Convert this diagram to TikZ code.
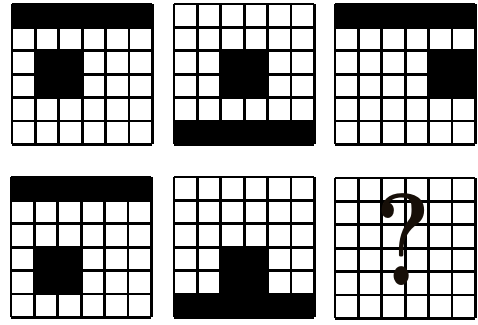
\documentclass[tikz,border=0pt]{standalone}
\tikzset{
  gridline/.style={line width=2.4pt, draw=black, line cap=square},
  blackcell/.style={fill=black},
  mark q/.style={inner sep=0pt, text=black!88!brown, font=\fontsize{112}{112}\selectfont\bfseries},
}
\begin{document}
\begin{tikzpicture}[x=0.03cm, y=-0.03cm]
  \useasboundingbox (0,0) rectangle (478,324);
  \def\c{23.4}
  \coordinate (p1) at (12,4);
  \coordinate (p2) at (174,4);
  \coordinate (p3) at (335,4);
  \coordinate (p4) at (11,177);
  \coordinate (p5) at (174,177);
  \coordinate (p6) at (335,178);
  % top row
  \begin{scope}[shift={(p1)}]
    \fill[blackcell] (0,0) rectangle (6*\c,\c);
    \fill[blackcell] (\c,2*\c) rectangle (3*\c,4*\c);
  \end{scope}
  \begin{scope}[shift={(p2)}]
    \fill[blackcell] (0,5*\c) rectangle (6*\c,6*\c);
    \fill[blackcell] (2*\c,2*\c) rectangle (4*\c,4*\c);
  \end{scope}
  \begin{scope}[shift={(p3)}]
    \fill[blackcell] (0,0) rectangle (6*\c,\c);
    \fill[blackcell] (4*\c,2*\c) rectangle (6*\c,4*\c);
  \end{scope}
  % bottom row
  \begin{scope}[shift={(p4)}]
    \fill[blackcell] (0,0) rectangle (6*\c,\c);
    \fill[blackcell] (\c,3*\c) rectangle (3*\c,5*\c);
  \end{scope}
  \begin{scope}[shift={(p5)}]
    \fill[blackcell] (0,5*\c) rectangle (6*\c,6*\c);
    \fill[blackcell] (2*\c,3*\c) rectangle (4*\c,5*\c);
  \end{scope}
  % grids
  \foreach \p in {p1,p2,p3,p4,p5,p6} {
    \begin{scope}[shift={(\p)}]
      \foreach \i in {0,...,6} {
        \draw[gridline] (\i*\c,0) -- (\i*\c,6*\c);
        \draw[gridline] (0,\i*\c) -- (6*\c,\i*\c);
      }
    \end{scope}
  }
  \node[mark q, xscale=0.8] (q) at (403,240) {?};
\end{tikzpicture}
\end{document}
